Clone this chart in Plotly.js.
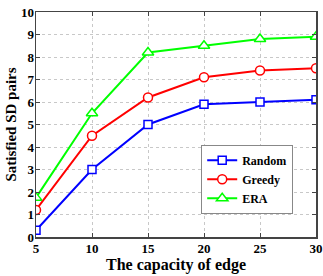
<!DOCTYPE html>
<html><head><meta charset="utf-8">
<script src="https://cdn.plot.ly/plotly-3.0.1.min.js"></script>
<style>html,body{margin:0;padding:0;background:#fff;}#chart{width:323px;height:276px;}</style>
</head><body><div id="chart"></div>
<script>
const capacity = [5, 10, 15, 20, 25, 30];
const randomVals = [0.3, 3.0, 5.0, 5.9, 6.0, 6.1];
const greedyVals = [1.2, 4.5, 6.2, 7.1, 7.4, 7.5];
const eraVals = [1.75, 5.5, 8.2, 8.5, 8.8, 8.9];
const xTicks = [5, 10, 15, 20, 25, 30];
const yTicks = [0,1,2,3,4,5,6,7,8,9,10];

const font = {family: '"Liberation Serif", serif', color: '#000'};
function tr(name, y, color, symbol, size) {
  return {x: capacity, y: y, name: name, type: 'scatter', mode: 'lines+markers',
    line: {color: color, width: 2},
    marker: {symbol: symbol, size: size, color: '#ffffff', line: {color: color, width: 1.5}}};
}
const data = [
  tr('<b>Random</b>', randomVals, '#0000ff', 'square', 8),
  tr('<b>Greedy</b>', greedyVals, '#ff0000', 'circle', 9),
  tr('<b>ERA</b>', eraVals, '#00ff00', 'triangle-up', 10)
];
const axisCommon = {
  showline: true, mirror: 'ticks', linecolor: '#444', linewidth: 1.5,
  ticks: 'inside', ticklen: 4, tickcolor: '#444', tickwidth: 1,
  showgrid: true, gridcolor: '#c8c8c8', griddash: 'dot', gridwidth: 1,
  zeroline: false, tickfont: Object.assign({size: 13}, font)
};
const layout = {
  width: 323, height: 276,
  margin: {l: 36, r: 7, t: 12, b: 39},
  paper_bgcolor: '#fff', plot_bgcolor: '#fff',
  showlegend: true,
  legend: {x: 0.59, y: 0.41, xanchor: 'left', yanchor: 'top',
    bgcolor: '#fff', bordercolor: '#888', borderwidth: 1,
    font: Object.assign({size: 12}, font), tracegroupgap: 0, itemwidth: 30},
  xaxis: Object.assign({}, axisCommon, {range: [5, 30], tickvals: xTicks, ticktext: xTicks.map(v => '<b>' + v + '</b>'),
    ticklabelstandoff: -1,
    title: {text: '<b>The capacity of edge</b>', font: Object.assign({size: 16}, font), standoff: 0}}),
  yaxis: Object.assign({}, axisCommon, {range: [0, 10], tickvals: yTicks, ticktext: yTicks.map(v => '<b>' + v + '</b>'),
    ticklabelstandoff: -2,
    title: {text: '<b>Satisfied SD pairs</b>', font: Object.assign({size: 15}, font), standoff: 0}})
};
Plotly.newPlot('chart', data, layout, {displayModeBar: false, staticPlot: true});
</script></body></html>
